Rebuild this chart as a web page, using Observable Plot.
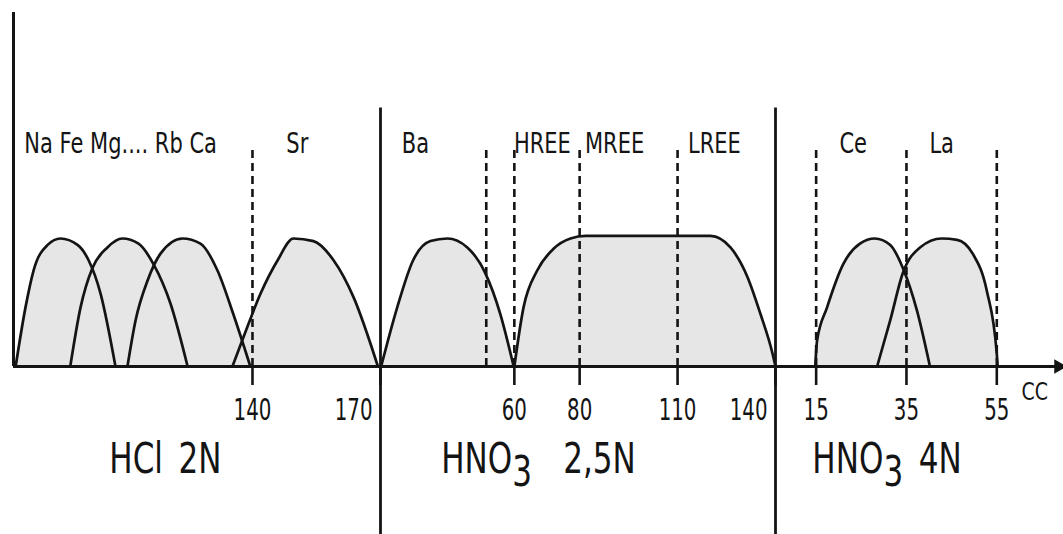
<!DOCTYPE html>
<html>
<head>
<meta charset="utf-8">
<script src="https://cdn.jsdelivr.net/npm/d3@7"></script>
<script src="https://cdn.jsdelivr.net/npm/@observablehq/plot@0.6"></script>
<style>
  html, body { margin: 0; padding: 0; background: #ffffff; }
  #chart svg { overflow: visible; }
</style>
</head>
<body>
<div id="chart"></div>
<script>
// ---------------- data ----------------
// Three eluent sections, each with its own cc axis (broken axis)
const sectionLabels  = ["HCl\u20022N", "HNO₃\u20032,5N", "HNO₃\u20024N"];
const sectionStart   = [84, 19, 6];      // cc at the left edge of each section
const sectionEnd     = [170, 140, 68];   // cc at the right edge of each section
const sectionLabelCC = [119.6, 67.4, 30.7];

// Elution peaks: section index, cc values, relative intensity
const peakNames   = ["Na", "Mg", "Ca", "Sr", "Ba", "REE", "Ce", "La"];
const peakSection = [0, 0, 0, 0, 1, 1, 2, 2];
const peakCC = [
  [84.5, 86.8, 88.7, 92.0, 95.0, 99.0, 101.6, 104.4, 107.9],
  [97.3, 99.7, 102.5, 106.0, 109.5, 113.3, 116.8, 120.8, 124.8],
  [110.7, 112.6, 115.4, 118.4, 123.6, 127.8, 131.8, 135.5, 139.5],
  [135.3, 137.9, 141.9, 145.9, 149.6, 154.3, 159.0, 163.7, 169.4],
  [19.2, 24.1, 29.0, 34.3, 39.5, 45.6, 51.1, 55.7, 59.8],
  [60.0, 62.8, 67.0, 72.0, 77.2, 81.8, 89.4, 110.9, 120.1, 126.2, 131.4, 135.4, 139.1, 140.0],
  [14.8, 15.2, 17.4, 21.0, 24.7, 28.0, 31.4, 34.2, 37.3, 40.2],
  [28.5, 31.4, 34.2, 38.0, 42.8, 46.2, 49.7, 52.8, 55.0, 55.2]
];
const peakIntensity = [
  [0, 0.46, 0.75, 0.95, 1.0, 0.95, 0.83, 0.57, 0],
  [0, 0.46, 0.77, 0.93, 1.0, 0.96, 0.80, 0.49, 0],
  [0, 0.36, 0.67, 0.88, 1.0, 0.96, 0.75, 0.41, 0],
  [0, 0.23, 0.57, 0.83, 1.0, 0.98, 0.83, 0.54, 0],
  [0, 0.46, 0.83, 0.98, 1.0, 0.93, 0.73, 0.41, 0],
  [0, 0.46, 0.75, 0.92, 1.0, 1.02, 1.02, 1.02, 1.02, 0.93, 0.70, 0.41, 0.10, 0],
  [0, 0.20, 0.46, 0.80, 0.96, 1.0, 0.95, 0.77, 0.44, 0],
  [0, 0.36, 0.73, 0.93, 1.0, 0.99, 0.88, 0.59, 0.10, 0]
];

// Element labels above the peaks
const elementLabels  = ["Na Fe Mg.... Rb Ca", "Sr", "Ba", "HREE", "MREE", "LREE", "Ce", "La"];
const elementSection = [0, 0, 1, 1, 1, 1, 2, 2];
const elementCC      = [109.1, 150.5, 29.7, 68.6, 90.7, 121.3, 23.2, 42.8];

// Dashed cut lines
const cutSection = [0, 1, 1, 1, 1, 2, 2, 2];
const cutCC      = [140, 51.4, 60, 80, 110, 15, 35, 55];

// Axis ticks (cc) per section
const tickSection = [0, 0, 1, 1, 1, 1, 2, 2, 2];
const tickCC      = [140, 170, 60, 80, 110, 140, 15, 35, 55];
const unitLabel   = "CC";
const unitCC      = 63.4;  // in section 3

// ---------------- global coordinate for the broken axis ----------------
const offsets = [];
let acc = 0;
sectionStart.forEach((s, i) => { offsets.push(acc); acc += sectionEnd[i] - s; });
const total = acc;
const G = (s, cc) => offsets[s] + (cc - sectionStart[s]);
const knots = [0, ...offsets.slice(1), total];

const curvePts = [];
peakNames.forEach((name, p) => {
  peakCC[p].forEach((cc, j) => curvePts.push({peak: name, g: G(peakSection[p], cc), v: peakIntensity[p][j]}));
});
const elems = elementLabels.map((t, i) => ({t, g: G(elementSection[i], elementCC[i])}));
const cuts = cutCC.map((cc, i) => G(cutSection[i], cc));
const ticks = tickCC.map((cc, i) => ({g: G(tickSection[i], cc), label: String(cc), boundary: cc === sectionEnd[tickSection[i]]}));
const allTicks = ticks.map(d => d.g);
const innerLabel = new Map(ticks.map(d => [d.g, d.boundary ? "" : d.label]));
const edgeLabel = new Map(ticks.filter(d => d.boundary).map(d => [d.g, d.label]));
const edgeTicks = ticks.filter(d => d.boundary).map(d => d.g);
const dividers = offsets.slice(1);
const secLabels = sectionLabels.map((t, i) => ({t, g: G(i, sectionLabelCC[i])}));
const unit = [{t: unitLabel, g: G(2, unitCC)}];

const ink = "#141414";
const yTop = 2.766;

const chart = Plot.plot({
  width: 1063,
  height: 534,
  marginTop: 12,
  marginBottom: 168,
  marginLeft: 13,
  marginRight: 8,
  style: {fontFamily: "'DejaVu Sans', sans-serif", background: "#ffffff", color: ink},
  x: {type: "linear", domain: knots, range: [13, 380, 775, 1055], axis: null, label: null},
  y: {type: "linear", domain: [0, yTop], axis: null, label: null},
  marks: [
    Plot.areaY(curvePts, {x: "g", y1: 0, y2: "v", z: "peak", fill: "#e6e6e6", curve: "monotone-x"}),
    Plot.ruleX(cuts, {x: d => d, y1: 0, y2: 1.69, stroke: ink, strokeWidth: 2.6, strokeDasharray: "8,5"}),
    Plot.line(curvePts, {x: "g", y: "v", z: "peak", stroke: ink, strokeWidth: 2.7, curve: "monotone-x"}),
    Plot.ruleX(dividers, {x: d => d, y1: 2.02, y2: -1.32, stroke: ink, strokeWidth: 2.8}),
    Plot.ruleX([0], {x: d => d, y1: 0, y2: yTop, stroke: ink, strokeWidth: 3}),
    Plot.ruleY([0], {y: d => d, x1: 0, x2: total, stroke: ink, strokeWidth: 3}),
    Plot.dot([total], {x: d => d, y: 0, symbol: "triangle", rotate: 90, r: 4.5, fill: ink, stroke: ink, dx: 3}),
    Plot.axisX({ticks: allTicks, label: null, tickSize: 19, tickPadding: 13, strokeWidth: 2.6, stroke: ink, fill: ink,
      fontSize: 30, tickFormat: d => innerLabel.get(d)}),
    Plot.axisX({ticks: edgeTicks, label: null, tickSize: 0, tickPadding: 32, stroke: "none", fill: ink,
      fontSize: 30, textAnchor: "end", dx: -8, tickFormat: d => edgeLabel.get(d)}),
    Plot.text(elems, {x: "g", y: 1.82, text: "t", fontSize: 28, lineAnchor: "top", fill: ink}),
    Plot.text(secLabels, {x: "g", y: -0.60, text: "t", fontSize: 42, lineAnchor: "top", fill: ink}),
    Plot.text(unit, {x: "g", y: -0.125, text: "t", fontSize: 25, lineAnchor: "top", fill: ink})
  ]
});

// narrow stencil-like lettering: squeeze text horizontally around its anchor
function squeeze(nodes, k) {
  nodes.forEach(t => {
    if (t.dataset.sq) return;
    t.dataset.sq = "1";
    let tr = t.getAttribute("transform");
    if (!tr) {
      const x = +(t.getAttribute("x") || 0), y = +(t.getAttribute("y") || 0);
      t.removeAttribute("x"); t.removeAttribute("y");
      tr = `translate(${x},${y})`;
    }
    t.setAttribute("transform", `${tr} scale(${k},1)`);
  });
}
// the three text marks, in the order they were declared: elements, sections, unit
const textGroups = chart.querySelectorAll(':scope > g[aria-label="text"]');
const textScale = [0.75, 0.74, 0.76];
textGroups.forEach((g, i) => squeeze(g.querySelectorAll("text"), textScale[i] ?? 0.66));
squeeze(chart.querySelectorAll("text"), 0.66);   // axis tick labels

// chemical subscript in HNO3
const ns = "http://www.w3.org/2000/svg";
chart.querySelectorAll("text").forEach(t => {
  const s = t.textContent;
  if (t.children.length === 0 && s.includes("₃")) {
    const [a, b] = s.split("₃");
    t.textContent = "";
    const t1 = document.createElementNS(ns, "tspan"); t1.textContent = a;
    const t2 = document.createElementNS(ns, "tspan"); t2.textContent = "3"; t2.setAttribute("dy", "0.3em");
    const t3 = document.createElementNS(ns, "tspan"); t3.textContent = b; t3.setAttribute("dy", "-0.3em");
    t.append(t1, t2, t3);
  }
});

document.getElementById("chart").appendChild(chart);
</script>
</body>
</html>
